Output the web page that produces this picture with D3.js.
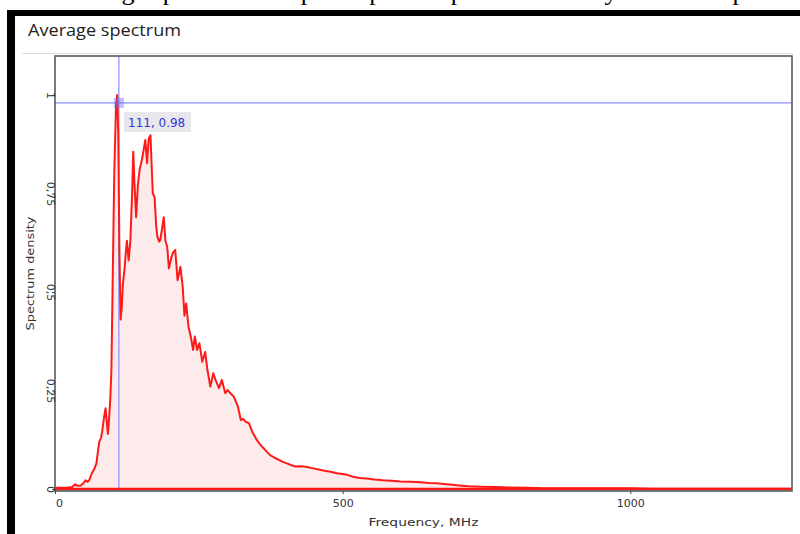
<!DOCTYPE html>
<html>
<head>
<meta charset="utf-8">
<script src="https://cdn.jsdelivr.net/npm/d3@7"></script>
<style>
html,body{margin:0;padding:0;background:#fff;}
svg{display:block;}
</style>
</head>
<body>
<svg id="chart" width="800" height="534"></svg>
<script>
// ---- data ----
const freq = [0,10,20,30,35,40,45,50,53,57,60,64,68,72,75,77,80,82,85,88,90,92,94,96,98,100,103,106,108,110,112,114,116,118,121,123,125,128,131,134,136,138,141,144,147,151,154,157,160,163,166,168,170,173,176,178,181,183,186,189,192,195,198,202,205,209,213,216,218,222,225,228,232,236,240,243,247,251,256,261,265,270,275,279,285,290,296,300,305,311,318,323,327,331,337,343,351,357,363,368,374,381,389,396,403,410,418,428,438,447,456,466,479,490,500,508,518,529,542,555,570,585,600,618,635,650,663,680,695,707,720,740,765,790,820,850,880,920,960,1000,1040,1100,1160,1220,1281];
const density = [0.003,0.003,0.003,0.005,0.012,0.008,0.009,0.016,0.022,0.018,0.024,0.04,0.05,0.065,0.10,0.12,0.13,0.145,0.18,0.205,0.17,0.14,0.18,0.226,0.3,0.5,0.8,0.97,1.0,0.9,0.6,0.43,0.46,0.52,0.56,0.6,0.63,0.58,0.63,0.75,0.856,0.78,0.69,0.77,0.81,0.835,0.86,0.886,0.827,0.89,0.898,0.82,0.75,0.742,0.666,0.64,0.628,0.632,0.66,0.69,0.63,0.615,0.56,0.586,0.6,0.607,0.53,0.55,0.564,0.513,0.44,0.471,0.412,0.387,0.353,0.387,0.353,0.37,0.323,0.348,0.302,0.26,0.294,0.277,0.256,0.277,0.243,0.251,0.243,0.234,0.209,0.175,0.178,0.171,0.167,0.145,0.124,0.112,0.103,0.095,0.086,0.080,0.074,0.069,0.065,0.061,0.057,0.058,0.056,0.053,0.050,0.047,0.044,0.040,0.038,0.036,0.031,0.028,0.027,0.024,0.022,0.021,0.019,0.0185,0.017,0.015,0.0145,0.012,0.010,0.0085,0.007,0.006,0.005,0.004,0.003,0.002,0.002,0.002,0.002,0.002,0.001,0.001,0.001,0.001,0.001];
const xTicks = [0,500,1000];
const yTicks = [0,0.25,0.5,0.75,1];
const cursorX = 111, cursorY = 0.98;
const chartTitle = "Average spectrum";
const xTitle = "Frequency, MHz";
const yTitle = "Spectrum density";
const pageText = "Average spectrum of a pulse: power spectrum density of the sample";

const data = freq.map((f,i)=>({f, v:density[i]}));

const svg = d3.select("#chart");
const L=55, R=792, T=56, B=491;
const x = d3.scaleLinear().domain([0,1281]).range([L,R]);
const y = d3.scaleLinear().domain([-0.005,1.099]).range([B,T]);

// cropped page text on top (only its lowest part is visible, as in the reference)
svg.append("text").attr("x",60).attr("y",0)
  .attr("font-family","Liberation Serif").attr("font-size",26).attr("fill","#000")
  .text(pageText);

// black frame
svg.append("rect").attr("x",7).attr("y",10).attr("width",800).attr("height",6).attr("fill","#000");
svg.append("rect").attr("x",7).attr("y",10).attr("width",8).attr("height",530).attr("fill","#000");

// title
svg.append("text").attr("x",28).attr("y",36)
  .attr("font-family","Open Sans").attr("font-size",17).attr("fill","#222")
  .attr("textLength",153).attr("lengthAdjust","spacingAndGlyphs")
  .text(chartTitle);

// separator
svg.append("line").attr("x1",22).attr("x2",R+1).attr("y1",53.5).attr("y2",53.5)
  .attr("stroke","#dcdcdc").attr("stroke-width",1);

svg.append("clipPath").attr("id","pc").append("rect")
  .attr("x",L).attr("y",T).attr("width",R-L).attr("height",B-T);

const g = svg.append("g").attr("clip-path","url(#pc)");

// area fill
g.append("path").datum(data)
  .attr("d", d3.area().x(d=>x(d.f)).y0(y(0)).y1(d=>y(d.v)))
  .attr("fill","#fdeaea");

// cursor lines
g.append("line").attr("x1",L).attr("x2",R).attr("y1",y(cursorY)).attr("y2",y(cursorY))
  .attr("stroke","#8c8cff").attr("stroke-width",1.2);
g.append("line").attr("x1",x(cursorX)).attr("x2",x(cursorX)).attr("y1",T).attr("y2",B)
  .attr("stroke","#8c8cff").attr("stroke-width",1.2);

// data line
g.append("path").datum(data)
  .attr("d", d3.line().x(d=>x(d.f)).y(d=>y(d.v)))
  .attr("fill","none").attr("stroke","#ff1a1a").attr("stroke-width",2).attr("stroke-linejoin","round");
// baseline
g.append("line").attr("x1",L).attr("x2",R).attr("y1",y(0)).attr("y2",y(0))
  .attr("stroke","#ff1a1a").attr("stroke-width",2.5);

// plot frame
svg.append("rect").attr("x",L).attr("y",T).attr("width",R-L).attr("height",B-T)
  .attr("fill","none").attr("stroke","#5a5a5a").attr("stroke-width",1.6);

// axes
const xAxis = svg.append("g").attr("transform",`translate(0,${B})`)
  .call(d3.axisBottom(x).tickValues(xTicks).tickSize(3).tickPadding(5).tickFormat(d3.format("d")));
xAxis.select(".domain").remove();
xAxis.selectAll("line").attr("stroke","#444");
xAxis.selectAll("text").attr("font-family","DejaVu Sans").attr("font-size",11).attr("fill","#333")
  .attr("dx",(d)=>d===0?4:0);

const fmt = d => String(d).replace(".",",");
const yAxis = svg.append("g").attr("transform",`translate(${L},0)`)
  .call(d3.axisLeft(y).tickValues(yTicks).tickSize(3).tickPadding(0).tickFormat(fmt));
yAxis.select(".domain").remove();
yAxis.selectAll("line").attr("stroke","#444");
yAxis.selectAll("text").attr("font-family","DejaVu Sans").attr("font-size",11).attr("fill","#333")
  .attr("text-anchor","middle").attr("x",0).attr("dy",0)
  .attr("transform","translate(-8,0) rotate(90)");

// axis titles
svg.append("text").attr("x",(L+R)/2).attr("y",526).attr("text-anchor","middle")
  .attr("font-family","DejaVu Sans").attr("font-size",11).attr("fill","#333")
  .attr("textLength",110).attr("lengthAdjust","spacingAndGlyphs").text(xTitle);
svg.append("text").attr("transform",`translate(34,${(T+B)/2}) rotate(-90)`).attr("text-anchor","middle")
  .attr("font-family","DejaVu Sans").attr("font-size",11).attr("fill","#333")
  .attr("textLength",114).attr("lengthAdjust","spacingAndGlyphs").text(yTitle);

// cursor marker and label
svg.append("rect").attr("x",x(cursorX)-5).attr("y",y(cursorY)-5).attr("width",10).attr("height",10)
  .attr("fill","rgba(110,110,255,0.45)");
svg.append("rect").attr("x",124).attr("y",112).attr("width",67).attr("height",20).attr("fill","#e8e8ec");
svg.append("text").attr("x",128).attr("y",127)
  .attr("font-family","DejaVu Sans").attr("font-size",12).attr("fill","#3434d8")
  .text(`${cursorX}, ${fmt(cursorY).replace(",",".")}`);
</script>
</body>
</html>
